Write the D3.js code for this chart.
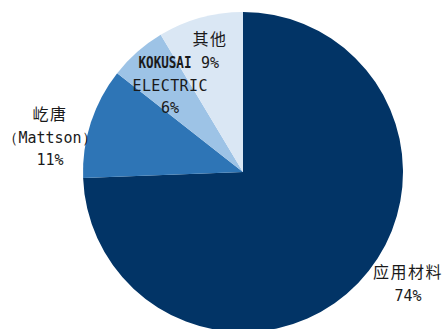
<!DOCTYPE html>
<html>
<head>
<meta charset="utf-8">
<script src="https://cdn.jsdelivr.net/npm/d3@7"></script>
<style>
  body { margin: 0; background: #fff; }
  svg text { fill: #1a1a1a; }
</style>
</head>
<body>
<svg id="chart"></svg>
<script>
// share of market (clockwise from 12 o'clock)
const names = ['应用材料', '屹唐（Mattson）', 'KOKUSAI ELECTRIC', '其他'];
const shares = [74.4, 11.2, 5.8, 8.6];
const pctLabels = ['74%', '11%', '6%', '9%'];
const colors = ['#023466', '#2e75b6', '#9dc3e6', '#dae7f4'];

const width = 445, height = 329;
const cx = 243, cy = 172, radius = 160;

const svg = d3.select('#chart')
      .attr('width', width)
      .attr('height', height);

const data = names.map((n, i) => ({name: n, value: shares[i], pct: pctLabels[i], color: colors[i]}));

const pie = d3.pie()
      .value(d => d.value)
      .sort(null);

const arc = d3.arc()
      .innerRadius(0)
      .outerRadius(radius);

const g = svg.append('g')
      .attr('transform', `translate(${cx}, ${cy})`);

g.selectAll('path')
      .data(pie(data))
      .join('path')
      .attr('d', arc)
      .style('fill', d => d.data.color);

// label lines per slice, placed roughly as in the source picture
const cjk = '"Noto Sans CJK SC", sans-serif';
const mono = '"DejaVu Sans Mono", "Liberation Mono", monospace';
const labels = [
      {x: 408, y: 278, lines: [['应用材料', cjk], [pctLabels[0], mono]]},
      {x: 50, y: 120, lines: [['屹唐', cjk], ['（Mattson）', mono], [pctLabels[1], mono]]},
      {x: 170, y: 68, lines: [['KOKUSAI', mono], ['ELECTRIC', mono], [pctLabels[2], mono]]},
      {x: 210, y: 45, lines: [['其他', cjk], [pctLabels[3], mono]]}
];

const lineGap = 22.5;
labels.forEach(l => {
      l.lines.forEach((ln, j) => {
            let t = svg.append('text')
                  .attr('x', l.x)
                  .attr('y', l.y + j * lineGap)
                  .attr('text-anchor', 'middle')
                  .style('font-family', ln[1])
                  .style('font-size', ln[1] === cjk ? '16px' : '15px')
                  .style('letter-spacing', ln[1] === cjk ? '1.5px' : '0px')
                  .text(ln[0]);
            if (ln[0] === 'KOKUSAI') t.attr('x', l.x - 5).attr('textLength', 53).attr('lengthAdjust', 'spacingAndGlyphs').style('font-weight', 'bold');
            if (ln[0] === 'ELECTRIC') t.attr('textLength', 75);
      });
});
</script>
</body>
</html>
